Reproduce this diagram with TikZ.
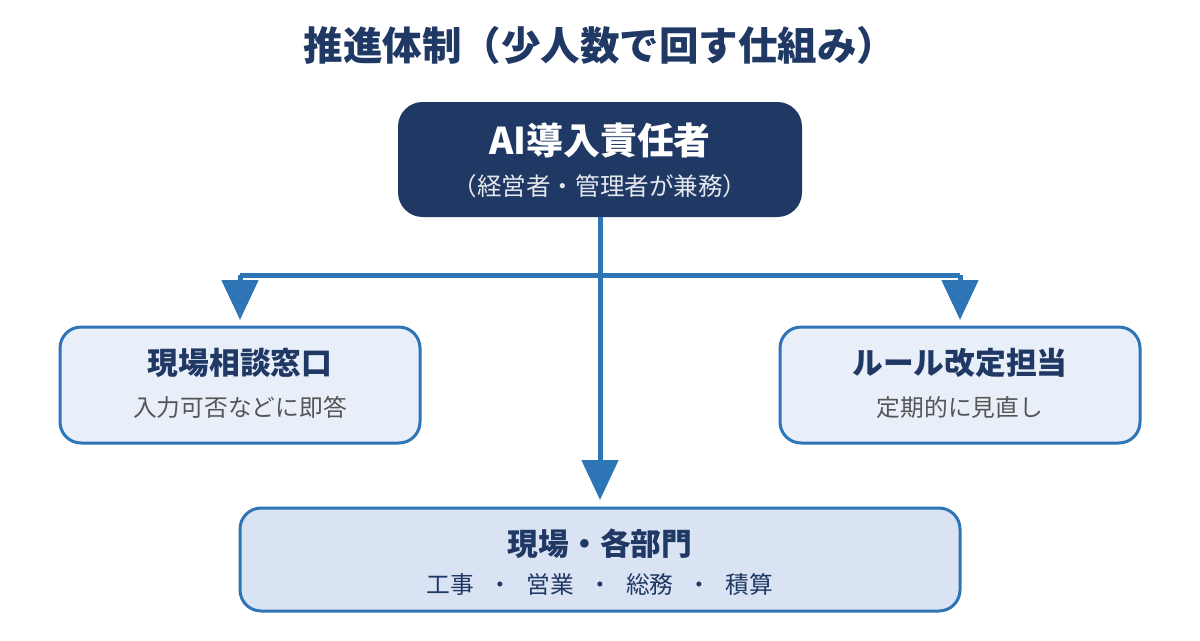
\documentclass[tikz,border=0pt]{standalone}
\usepackage{fontspec}
\setmainfont{Noto Sans CJK JP}
\usetikzlibrary{arrows.meta}
\definecolor{navy}{HTML}{1F3864}
\definecolor{edgeblue}{HTML}{2E75B6}
\definecolor{paleblue}{HTML}{E9EFF9}
\definecolor{midblue}{HTML}{DAE3F3}
\definecolor{subgray}{HTML}{555555}
\begin{document}
\begin{tikzpicture}[x=0.02cm, y=-0.02cm,
  head/.style = {fill=navy, rounded corners=14pt},
  role/.style = {draw=edgeblue, line width=0.06cm, fill=paleblue, rounded corners=12pt},
  link/.style = {draw=edgeblue, line width=0.1cm},
  tip/.style = {-{Triangle[width=0.72cm, length=0.8cm]}, link}]
  \useasboundingbox (0,0) rectangle (1200,640);
  \node[font=\bfseries\fontsize{22.5}{26}\selectfont, text=navy] (title) at (600,45) {推進体制（少人数で回す仕組み）};
  % boxes
  \fill[head] (398,102) rectangle (802,217);
  \node[font=\bfseries\fontsize{21}{24}\selectfont, text=white] (lead) at (600,140) {AI導入責任者};
  \node[font=\fontsize{14}{17}\selectfont, text=white!88!navy] (leadsub) at (600,186) {（経営者・管理者が兼務）};
  \draw[role] (60,327) rectangle (420,443);
  \node[font=\bfseries\fontsize{17.5}{20}\selectfont, text=navy] (desk) at (240,363) {現場相談窓口};
  \node[font=\fontsize{13.5}{16}\selectfont, text=subgray] (desksub) at (240,407) {入力可否などに即答};
  \draw[role] (780,327) rectangle (1140,443);
  \node[font=\bfseries\fontsize{17.5}{20}\selectfont, text=navy] (rule) at (960,363) {ルール改定担当};
  \node[font=\fontsize{13.5}{16}\selectfont, text=subgray] (rulesub) at (960,407) {定期的に見直し};
  \draw[role, fill=midblue] (240,508) rectangle (960,611);
  \node[font=\bfseries\fontsize{17.5}{20}\selectfont, text=navy] (site) at (600,544) {現場・各部門};
  \node[font=\fontsize{13.5}{16}\selectfont, text=navy] (sitesub) at (600,584) {工事\hspace{0.6em}・\hspace{0.6em}営業\hspace{0.6em}・\hspace{0.6em}総務\hspace{0.6em}・\hspace{0.6em}積算};
  % connectors
  \coordinate (top) at (600,217);
  \coordinate (down) at (600,500);
  \coordinate (lft) at (240,275);
  \coordinate (rgt) at (960,275);
  \coordinate (lend) at (240,320);
  \coordinate (rend) at (960,320);
  \draw[link] (lft) -- (rgt);
  \draw[tip] (top) -- (down);
  \draw[tip] (lft) -- (lend);
  \draw[tip] (rgt) -- (rend);
\end{tikzpicture}
\end{document}
